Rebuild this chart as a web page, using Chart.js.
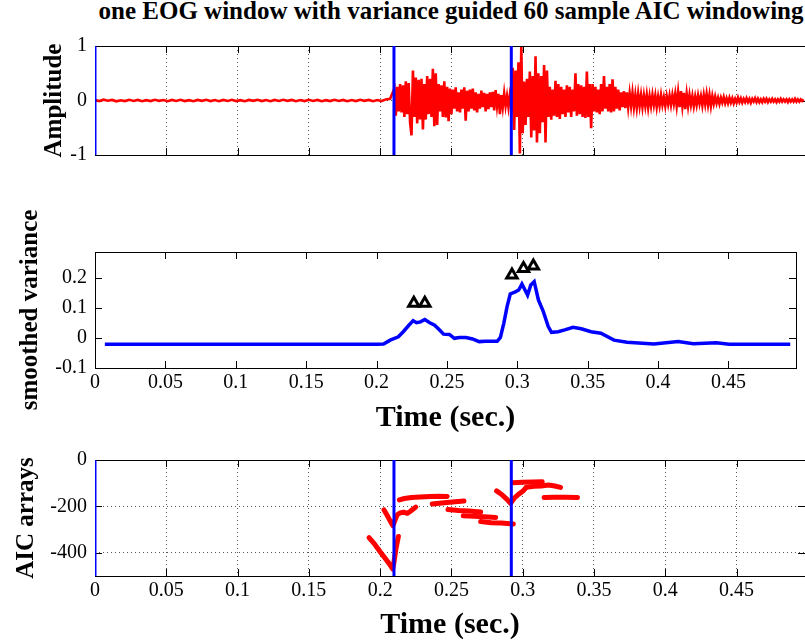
<!DOCTYPE html>
<html>
<head>
<meta charset="utf-8">
<script src="https://cdn.jsdelivr.net/npm/chart.js@4.4.0/dist/chart.umd.min.js"></script>
<style>
  body { margin: 0; background: #fff; width: 805px; height: 641px; position: relative; overflow: hidden; }
  .panel { position: absolute; left: 0; }
  #title { position: absolute; left: 0; top: -3px; width: 902px; text-align: center;
           font: bold 25px "Liberation Serif", "Times New Roman", serif; line-height: 28px; color: #000; white-space: nowrap; }
</style>
</head>
<body>
<div id="title">one EOG window with variance guided 60 sample AIC windowing</div>
<canvas id="eog" class="panel" style="top:0" width="805" height="175"></canvas>
<canvas id="variance" class="panel" style="top:175px" width="805" height="265"></canvas>
<canvas id="aic" class="panel" style="top:440px" width="805" height="201"></canvas>
<script>
// shared time axis
const timeTicks = [0, 0.05, 0.1, 0.15, 0.2, 0.25, 0.3, 0.35, 0.4, 0.45];
const tMax = 0.498;
const onsetTimes = [0, 0.2097, 0.292];

// top panel: raw EOG trace (quiet part, then active part)
const quietStart = 0, quietStep = 0.003;
const eogQuiet = [0.01,-0.01,0.015,-0.005,0.01,-0.015,0.005,-0.01,0.012,-0.008,0.01,-0.012,0.006,-0.01,0.014,-0.006,0.008,-0.012,0.01,-0.008,
  0.012,-0.01,0.006,-0.014,0.01,-0.006,0.012,-0.01,0.008,-0.012,0.01,-0.008,0.014,-0.01,0.006,-0.012,0.01,-0.006,0.012,-0.01,
  0.008,-0.014,0.01,-0.008,0.012,-0.006,0.01,-0.012,0.008,-0.01,0.014,-0.008,0.01,-0.012,0.006,-0.01,0.012,-0.008,0.01,-0.014,
  0.008,-0.01,0.012,-0.006,0.01,-0.012,0.008,-0.01,0.02,0.03];
const activeStart = 0.21, activeStep = 0.001;
const eogActive = [
  0.22,-0.28,0.25,-0.2,0.3,-0.22,0.28,-0.3,0.35,-0.25,0.32,-0.4,-0.64,0.55,-0.3,0.42,-0.42,0.38,-0.35,0.4,
  -0.53,0.3,-0.35,0.45,-0.25,0.4,-0.3,0.58,-0.47,0.5,-0.45,0.3,-0.2,0.28,-0.3,0.35,-0.31,0.25,-0.38,0.22,
  -0.25,0.2,-0.15,0.24,-0.2,0.15,-0.22,0.2,-0.15,0.24,-0.37,0.18,-0.2,0.2,-0.15,0.22,-0.18,0.15,-0.22,0.12,
  -0.15,0.18,-0.12,0.14,-0.2,0.12,-0.16,0.15,-0.12,0.16,-0.18,0.19,-0.1,0.12,-0.25,0.1,-0.12,0.13,-0.1,0.08,
  -0.12,0.1,-0.05,0.6,-0.54,0.55,-0.3,0.7,-0.97,0.98,-0.6,0.35,-0.45,0.4,-0.3,0.53,-0.68,0.45,-0.55,0.81,
  -0.77,0.5,-0.6,0.45,-0.4,0.65,-0.77,0.55,-0.3,0.25,-0.35,0.2,-0.28,0.36,-0.3,0.3,-0.34,0.25,-0.25,0.2,
  -0.3,0.28,-0.22,0.25,-0.3,0.2,-0.2,0.5,-0.28,0.3,-0.25,0.28,-0.3,0.25,-0.32,0.53,-0.3,0.3,-0.51,0.3,
  -0.2,0.25,-0.22,0.2,-0.25,0.3,-0.2,0.45,-0.15,0.25,-0.2,0.3,-0.22,0.39,-0.2,0.25,-0.15,0.2,-0.18,0.15,
  -0.12,0.17,-0.14,0.15,-0.12,0.13,-0.1,0.14,-0.12,0.1,-0.13,0.12,-0.1,0.1,-0.12,0.09,-0.1,0.1,-0.13,0.08,
  -0.1,0.1,-0.08,0.09,-0.12,0.07,-0.09,0.1,-0.08,0.06,-0.1,0.08,-0.07,0.09,-0.08,0.1,-0.06,0.12,-0.1,0.15,
  -0.12,0.17,-0.1,0.14,-0.16,0.12,-0.1,0.1,-0.08,0.08,-0.1,0.07,-0.08,0.09,-0.06,0.08,-0.09,0.1,-0.07,0.12,
  -0.08,0.1,-0.1,0.08,-0.06,0.07,-0.05,0.05,-0.06,0.05,-0.04,0.06,-0.05,0.04,-0.05,0.05,-0.04,0.04,-0.05,0.03,
  -0.04,0.05,-0.03,0.04,-0.04,0.03,-0.03,0.04,-0.03,0.03,-0.04,0.03,-0.02,0.04,-0.03,0.03,-0.03,0.02,-0.03,0.03,
  -0.02,0.03,-0.03,0.02,-0.02,0.03,-0.02,0.02,-0.03,0.02,-0.02,0.03,-0.02,0.02,-0.02,0.02,-0.03,0.02,-0.02,0.02,
  -0.02,0.03,-0.02,0.02,-0.02,0.02,-0.01,0.02];
const ampTicks = [-1, 0, 1];

// middle panel: smoothed variance and picked peaks
const varTime = [0.007,0.05,0.1,0.15,0.2,0.205,0.2097,0.2155,0.219,0.2225,0.226,0.2284,0.2312,0.2343,0.2378,0.2413,0.2448,0.2476,0.2518,0.2553,
  0.2588,0.2635,0.2682,0.2729,0.2775,0.2857,0.288,0.2904,0.2927,0.295,0.2986,0.301,0.3033,0.3073,0.3096,0.312,0.315,0.3185,0.322,0.3243,
  0.329,0.3337,0.3396,0.3454,0.3524,0.3594,0.3687,0.378,0.397,0.4143,0.425,0.4413,0.4506,0.4939];
const varValue = [-0.021,-0.021,-0.021,-0.021,-0.021,-0.02,-0.007,0.004,0.021,0.04,0.058,0.051,0.054,0.062,0.051,0.043,0.027,0.013,0.012,-0.001,
  0.002,0.002,-0.003,-0.012,-0.011,-0.011,0.002,0.049,0.104,0.147,0.154,0.16,0.18,0.143,0.177,0.188,0.127,0.088,0.038,0.019,
  0.021,0.027,0.036,0.031,0.021,0.016,-0.007,-0.014,-0.02,-0.012,-0.019,-0.016,-0.021,-0.021];
const peakTime = [0.2265, 0.2343, 0.2962, 0.3044, 0.3114];
const peakValue = [0.116, 0.116, 0.21, 0.232, 0.24];
const varTicks = [-0.1, 0, 0.1, 0.2];

// bottom panel: AIC arrays, one per window
const aicTime = [
  [0.1922,0.196,0.2,0.204,0.207,0.2088,0.2097,0.211,0.2128],
  [0.2027,0.2055,0.2075,0.209,0.2105,0.212,0.214,0.2165,0.219,0.221,0.2235,0.225],
  [0.2135,0.217,0.222,0.228,0.235,0.241,0.247],
  [0.2366,0.245,0.2525,0.2588],
  [0.2476,0.255,0.262,0.2705],
  [0.2583,0.266,0.273,0.281],
  [0.2705,0.278,0.285,0.2934],
  [0.2817,0.2855,0.289,0.2915,0.294,0.297,0.3,0.3025],
  [0.2927,0.3,0.307,0.3137],
  [0.3025,0.308,0.313,0.318,0.3225,0.3265],
  [0.315,0.322,0.33,0.3384]
];
const aicValue = [
  [-335,-362,-395,-428,-452,-470,-440,-385,-330],
  [-215,-245,-268,-283,-258,-236,-228,-225,-230,-222,-210,-203],
  [-172,-166,-162,-160,-157,-156,-157],
  [-190,-184,-180,-177],
  [-213,-218,-220,-224],
  [-240,-243,-245,-248],
  [-265,-270,-272,-276],
  [-133,-150,-170,-187,-165,-148,-135,-118],
  [-98,-96,-95,-94],
  [-118,-113,-112,-108,-112,-118],
  [-162,-161,-161,-162]
];
const aicTicks = [-400, -200, 0];

const serif = '"Liberation Serif", "Times New Roman", serif';
const tickFont = {family: serif, size: 20};
const fmt = v => String(Math.round(v * 1000) / 1000);

// matlab style box + inward tick marks
const matlabAxes = {
  id: 'matlabAxes',
  beforeDatasetsDraw(chart) {
    const {ctx, chartArea: a, scales: {x, y}} = chart;
    ctx.save();
    ctx.strokeStyle = '#000';
    ctx.lineWidth = 1;
    ctx.beginPath();
    x.ticks.forEach(t => {
      const px = Math.round(x.getPixelForValue(t.value)) + 0.5;
      ctx.moveTo(px, a.bottom); ctx.lineTo(px, a.bottom - 7);
      ctx.moveTo(px, a.top); ctx.lineTo(px, a.top + 7);
    });
    y.ticks.forEach(t => {
      const py = Math.round(y.getPixelForValue(t.value)) + 0.5;
      ctx.moveTo(a.left, py); ctx.lineTo(a.left + 7, py);
      ctx.moveTo(a.right, py); ctx.lineTo(a.right - 7, py);
    });
    ctx.stroke();
    ctx.strokeRect(Math.round(a.left) + 0.5, Math.round(a.top) + 0.5, Math.round(a.width), Math.round(a.height));
    ctx.restore();
  }
};

function xScale(showLabels, axisHeight, gridOn, titlePad) {
  return {
    type: 'linear', min: 0, max: tMax,
    afterBuildTicks: s => { s.ticks = timeTicks.map(v => ({value: v})); },
    afterFit: s => { s.height = axisHeight; },
    grid: {display: gridOn, drawTicks: false, color: '#555', lineWidth: 1},
    border: {display: false, dash: [1, 3]},
    ticks: {display: showLabels, padding: 3, color: '#000', font: tickFont, maxRotation: 0, autoSkip: false, callback: fmt},
    title: {display: showLabels, text: 'Time (sec.)', color: '#000',
            font: {family: serif, size: 30, weight: 'bold', lineHeight: 1}, padding: {top: 0, bottom: titlePad}}
  };
}

function yScale(min, max, tickList, label, labelX, gridOn) {
  return {
    type: 'linear', min: min, max: max,
    afterBuildTicks: s => { s.ticks = tickList.map(v => ({value: v})); },
    afterFit: s => { s.width = 95; },
    grid: {display: gridOn, drawTicks: false, color: '#555', lineWidth: 1},
    border: {display: false, dash: [1, 3]},
    ticks: {padding: 8, color: '#000', font: tickFont, callback: fmt},
    title: {display: true, text: label, color: '#000',
            font: {family: serif, size: 25, weight: 'bold', lineHeight: 1}, padding: {top: labelX - 12.5, bottom: 0}}
  };
}

function onsetLines(yMin, yMax) {
  return onsetTimes.map(t => ({
    data: [{x: t, y: yMin}, {x: t, y: yMax}],
    borderColor: '#0000ff', borderWidth: 3, pointRadius: 0, order: 0
  }));
}

function baseOptions(padTop, scales) {
  return {
    responsive: false, animation: false,
    layout: {padding: {top: padTop, left: 0, right: 0, bottom: 0}},
    plugins: {legend: {display: false}, tooltip: {enabled: false}},
    elements: {line: {tension: 0}},
    scales: scales
  };
}

// top: EOG amplitude
const eogPoints = eogQuiet.map((v, i) => ({x: quietStart + i * quietStep, y: v}))
  .concat(eogActive.map((v, i) => ({x: activeStart + i * activeStep, y: v})));

new Chart(document.getElementById('eog'), {
  type: 'line',
  data: {datasets: [
    {data: eogPoints, borderColor: '#ff0000', borderWidth: 2.6, pointRadius: 0, order: 1},
    ...onsetLines(-1, 1)
  ]},
  options: baseOptions(46, {x: xScale(false, 13, true, 0), y: yScale(-1, 1, ampTicks, 'Amplitude', 55, true)}),
  plugins: [matlabAxes]
});

// middle: smoothed variance
new Chart(document.getElementById('variance'), {
  type: 'line',
  data: {datasets: [
    {data: peakTime.map((t, i) => ({x: t, y: peakValue[i]})), showLine: false, pointStyle: 'triangle',
     pointRadius: 6, pointBorderWidth: 3, pointBorderColor: '#000', pointBackgroundColor: '#fff', order: 0},
    {data: varTime.map((t, i) => ({x: t, y: varValue[i]})), borderColor: '#0000ff', borderWidth: 3.5, pointRadius: 0, order: 1}
  ]},
  options: baseOptions(77, {x: xScale(true, 72, false, 7), y: yScale(-0.1, 0.287, varTicks, 'smoothed variance', 31, false)}),
  plugins: [matlabAxes]
});

// bottom: AIC arrays
new Chart(document.getElementById('aic'), {
  type: 'line',
  data: {datasets: [
    ...aicTime.map((ts, k) => ({
      data: ts.map((t, i) => ({x: t, y: aicValue[k][i]})),
      borderColor: '#ff0000', borderWidth: 5, borderCapStyle: 'round', borderJoinStyle: 'round', pointRadius: 0, order: 1
    })),
    ...onsetLines(-500, 0)
  ]},
  options: baseOptions(19, {x: xScale(true, 65, true, 1), y: yScale(-500, 0, aicTicks, 'AIC arrays', 27, true)}),
  plugins: [matlabAxes]
});
</script>
</body>
</html>
